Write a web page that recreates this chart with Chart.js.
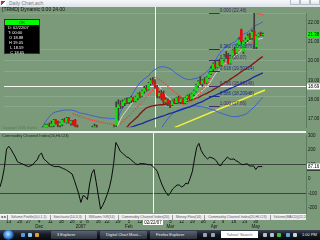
<!DOCTYPE html>
<html lang="en">
<head>
<meta charset="utf-8">
<title>Daily Chart</title>
<script src="https://cdn.jsdelivr.net/npm/chart.js@4.4.1/dist/chart.umd.min.js"></script>
<style>
  html, body { margin: 0; padding: 0; }
  body {
    position: relative;
    width: 320px;
    height: 240px;
    overflow: hidden;
    background: #7a9a7a;
    font-family: "Liberation Sans", Arial, sans-serif;
  }
  canvas { position: absolute; left: 0; }
  #price-chart { top: 7px; width: 320px; height: 125px; }
  #cci-chart { top: 131px; width: 320px; height: 99px; }
  .abs { position: absolute; white-space: nowrap; }

  #titlebar { left: 0; top: 0; width: 320px; height: 7px; background: linear-gradient(#f6f8fa, #dce3ea); }
  #titlebar .icon { position: absolute; left: 1px; top: 1px; width: 5px; height: 5px; background: linear-gradient(135deg, #cc2a2a 0 50%, #ffffff 50%); }
  #titlebar .title { position: absolute; left: 9px; top: 0; font-size: 5px; line-height: 7px; color: #7b8088; }
  .winbtn { position: absolute; top: 0; width: 10px; height: 5px; box-sizing: border-box; border: 1px solid #b5bdc6; border-top: 0; background: linear-gradient(#fbfcfd, #dfe5eb); }

  #symbol-line { left: 2px; top: 6px; font-size: 5px; line-height: 6px; color: #141414; }
  #data-box { left: 4px; top: 19px; width: 36px; height: 35px; background: #000; border: 1px solid #333; box-sizing: border-box; }
  #data-box .hdr { height: 5px; background: #00ff00; color: #000; font-size: 4px; line-height: 5px; text-align: center; }
  #data-box .row { color: #fff; font-size: 4px; line-height: 5px; padding-left: 3px; }
  #copyright { left: 2px; top: 126px; font-size: 3.5px; color: #5a785a; }

  #panel-split { left: 0; top: 131px; width: 306px; height: 2px; background: #f2f2f2; }
  #cci-title { left: 2px; top: 133px; font-size: 4px; line-height: 5px; color: #1c251c; }

  #tab-strip { left: 0; top: 214px; width: 306px; height: 6px; background: #ececec; border-top: 1px solid #ffffff; box-sizing: border-box; display: flex; font-size: 3.5px; line-height: 5px; color: #5a5a5a; overflow: hidden; }
  #tab-strip .arrows { width: 9px; border-right: 1px solid #8a8a8a; text-align: center; color: #333; }
  #tab-strip .tab { padding: 0 3px; border-right: 1px solid #9a9a9a; }

  #taskbar { left: 0; top: 230px; width: 320px; height: 10px; background: linear-gradient(#3b4453, #161b24 45%, #07090d); }
  #taskbar .orb { position: absolute; left: 3px; top: 0; width: 11px; height: 10px; border-radius: 50%; background: radial-gradient(circle at 45% 40%, #bfe8ff, #3a86d8 45%, #0f2f60 75%); }
  #taskbar .ql { position: absolute; top: 3px; width: 4px; height: 4px; border-radius: 1px; }
  #taskbar .btn { position: absolute; top: 1px; height: 8px; border-radius: 1px; background: linear-gradient(#5a6372, #2b313c); color: #e8eef5; font-size: 4px; line-height: 8px; padding-left: 6px; box-sizing: border-box; overflow: hidden; }
  #taskbar .search { position: absolute; left: 221px; top: 1px; width: 37px; height: 7px; background: #fff; color: #6a6a6a; font-size: 4px; line-height: 7px; text-align: center; }
  #taskbar .tray { position: absolute; top: 3px; width: 4px; height: 4px; border-radius: 1px; }
  #taskbar .clock { position: absolute; left: 302px; top: 0; font-size: 4px; line-height: 10px; color: #e8eef5; }
</style>
</head>
<body>

<div id="titlebar" class="abs">
  <span class="icon"></span>
  <span class="title">Daily Chart.ach</span>
  <span class="winbtn" style="left:290px"></span>
  <span class="winbtn" style="left:300px"></span>
  <span class="winbtn" style="left:310px"></span>
</div>

<canvas id="price-chart" width="320" height="125"></canvas>
<canvas id="cci-chart" width="320" height="99"></canvas>

<div id="symbol-line" class="abs">[TRMD] Dynamic 0.00 24.00</div>

<div id="data-box" class="abs">
  <div class="hdr">OK</div>
  <div class="row" id="box-date"></div>
  <div class="row">T: 00:00</div>
  <div class="row" id="box-open"></div>
  <div class="row" id="box-high"></div>
  <div class="row" id="box-low"></div>
  <div class="row" id="box-close"></div>
</div>

<div id="copyright" class="abs">Copyright 2006 Digital</div>
<div id="panel-split" class="abs"></div>
<div id="cci-title" class="abs">Commodity Channel Index(20,HLC/3)</div>
<div id="tab-strip" class="abs"></div>

<div id="taskbar" class="abs">
  <span class="orb"></span>
  <span class="ql" style="left:21px;background:#4aa0e8"></span>
  <span class="ql" style="left:28px;background:#8cc8f0"></span>
  <span class="ql" style="left:35px;background:#e0a030"></span>
  <span class="btn" style="left:51px;width:46px">3 Explorer</span>
  <span class="btn" style="left:100px;width:47px">Digital Chart Mast...</span>
  <span class="btn" style="left:150px;width:47px">Firefox Explorer</span>
  <span class="ql" style="left:203px;background:#9aa4b0"></span>
  <span class="ql" style="left:211px;background:#9aa4b0"></span>
  <span class="search">Yahoo! Search</span>
  <span class="tray" style="left:263px;background:#b8c0cc"></span>
  <span class="tray" style="left:270px;background:#b8c0cc"></span>
  <span class="tray" style="left:277px;background:#40c040"></span>
  <span class="tray" style="left:286px;background:#5aa8e8"></span>
  <span class="tray" style="left:293px;background:#c8d0da"></span>
  <span class="clock">1:00 PM</span>
</div>

<script>
// ------------------------------------------------------
// DATA  (day 0 = Nov 13 2006, one step per trading day)
// ------------------------------------------------------
const FIRST_DAY = -4;
const LAST_DAY = 136;

const opens = [
  15.80, 15.90, 16.05, 16.20, 16.35, 16.45, 16.25, 16.15, 16.10, 16.05,
  16.15, 16.10, 16.25, 16.15, 16.20, 16.30, 16.40, 16.45, 16.45, 16.55,
  16.62, 16.70, 16.65, 16.70, 16.95, 16.80, 16.70, 16.75, 16.95, 16.85,
  17.05, 16.80, 16.90, 16.95, 16.60, 16.45, 16.25, 16.00, 15.80, 16.00,
  15.90, 16.30, 16.55, 16.60, 16.45, 16.20, 15.95, 15.65, 15.75, 15.90,
  16.10, 16.30, 16.70, 17.60, 17.75, 17.70, 17.85, 17.95, 17.90, 18.00,
  18.10, 17.95, 18.10, 18.30, 18.20, 18.45, 18.60, 18.55, 18.85, 19.00,
  18.88, 18.65, 18.20, 18.35, 18.30, 17.90, 18.00, 17.80, 17.75, 17.95,
  17.85, 18.10, 17.90, 18.05, 17.85, 18.10, 18.20, 18.05, 18.30, 18.45,
  18.75, 18.95, 18.85, 19.00, 18.90, 19.15, 19.35, 19.60, 19.85, 19.70,
  20.00, 19.80, 20.10, 20.30, 20.30, 19.90, 20.25, 20.55, 20.45, 20.85,
  21.60, 20.50, 21.00, 21.10, 21.30, 21.20, 21.55, 20.75, 21.30, 21.40,
  21.35
];
const highs = [
  15.95, 16.10, 16.25, 16.40, 16.50, 16.50, 16.35, 16.25, 16.20, 16.20,
  16.25, 16.30, 16.35, 16.25, 16.35, 16.45, 16.50, 16.55, 16.62, 16.75,
  16.75, 16.80, 16.90, 17.00, 17.00, 16.90, 16.85, 17.00, 17.05, 17.10,
  17.10, 16.95, 16.95, 17.00, 16.70, 16.50, 16.30, 16.10, 16.05, 16.10,
  16.00, 16.65, 16.75, 16.70, 16.50, 16.25, 16.00, 15.80, 15.95, 16.15,
  16.35, 16.70, 17.90, 18.00, 17.95, 18.00, 18.05, 18.10, 18.10, 18.20,
  18.15, 18.20, 18.35, 18.40, 18.50, 18.70, 18.75, 18.90, 19.10, 19.15,
  19.05, 18.75, 18.45, 18.50, 18.45, 18.10, 18.05, 17.95, 18.00, 18.05,
  18.15, 18.20, 18.10, 18.10, 18.15, 18.25, 18.30, 18.35, 18.50, 18.80,
  19.00, 19.20, 19.05, 19.15, 19.20, 19.40, 19.70, 19.90, 20.00, 20.05,
  20.10, 20.15, 20.35, 20.50, 20.40, 20.30, 20.60, 20.70, 20.90, 21.20,
  21.65, 21.05, 21.20, 21.40, 21.45, 21.60, 22.48, 21.35, 21.45, 21.50,
  21.45
];
const lows = [
  15.70, 15.85, 16.00, 16.15, 16.25, 16.20, 16.10, 16.00, 15.95, 16.00,
  16.05, 16.05, 16.10, 16.05, 16.15, 16.25, 16.30, 16.35, 16.40, 16.50,
  16.55, 16.60, 16.55, 16.60, 16.75, 16.60, 16.55, 16.65, 16.85, 16.80,
  16.80, 16.70, 16.70, 16.60, 16.40, 16.20, 15.95, 15.75, 15.75, 15.85,
  15.80, 16.20, 16.45, 16.40, 16.15, 15.90, 15.60, 15.55, 15.70, 15.85,
  16.05, 16.20, 16.60, 16.95, 17.55, 17.60, 17.70, 17.80, 17.80, 17.85,
  17.90, 17.90, 18.00, 18.10, 18.15, 18.35, 18.45, 18.50, 18.75, 18.80,
  18.59, 18.10, 18.10, 18.00, 17.80, 17.75, 17.70, 17.60, 17.70, 17.80,
  17.80, 17.85, 17.80, 17.80, 17.80, 18.00, 18.00, 18.00, 18.20, 18.40,
  18.65, 18.80, 18.70, 18.85, 18.85, 19.10, 19.30, 19.50, 19.60, 19.65,
  19.75, 19.75, 20.00, 20.15, 19.85, 19.85, 20.20, 20.35, 20.40, 20.80,
  20.90, 20.40, 20.90, 21.00, 21.10, 21.10, 20.65, 20.65, 21.25, 21.30,
  21.30
];
const closes = [
  15.90, 16.05, 16.20, 16.35, 16.45, 16.25, 16.15, 16.10, 16.05, 16.15,
  16.10, 16.25, 16.15, 16.20, 16.30, 16.40, 16.45, 16.50, 16.58, 16.70,
  16.70, 16.65, 16.75, 16.95, 16.80, 16.70, 16.80, 16.95, 16.90, 17.05,
  16.85, 16.90, 16.75, 16.65, 16.45, 16.25, 16.00, 15.80, 16.00, 15.90,
  15.85, 16.55, 16.62, 16.45, 16.20, 15.95, 15.65, 15.75, 15.90, 16.10,
  16.30, 16.60, 17.60, 17.75, 17.70, 17.90, 18.00, 17.90, 18.05, 18.10,
  17.95, 18.15, 18.30, 18.20, 18.45, 18.60, 18.55, 18.85, 19.00, 18.90,
  18.65, 18.20, 18.35, 18.10, 17.90, 18.00, 17.80, 17.75, 17.95, 17.85,
  18.10, 17.90, 18.05, 17.85, 18.10, 18.20, 18.05, 18.30, 18.45, 18.75,
  18.95, 18.85, 19.00, 18.90, 19.15, 19.35, 19.60, 19.85, 19.70, 20.00,
  19.80, 20.10, 20.30, 20.20, 19.90, 20.25, 20.55, 20.45, 20.85, 21.10,
  21.00, 21.00, 21.10, 21.30, 21.20, 21.50, 21.15, 21.30, 21.40, 21.35,
  21.38
];

// overlays: each starts at the given trading day
const upperBandStart = 13;
const upperBand = [
  16.45,
  16.63, 16.83, 16.98, 17.13, 17.26, 17.33, 17.38, 17.40, 17.43, 17.46,
  17.47, 17.48, 17.48, 17.48, 17.46, 17.43, 17.38, 17.33, 17.31, 17.28,
  17.28, 17.23, 17.21, 17.18, 17.16, 17.13, 17.11, 17.08, 17.08, 17.06,
  17.06, 17.03, 17.03, 17.03, 17.08, 17.13, 17.38, 17.58, 17.78, 17.88,
  17.99, 18.18, 18.38, 18.58, 18.73, 18.88, 18.99, 19.09, 19.16, 19.24,
  19.39, 19.49, 19.56, 19.64, 19.69, 19.71, 19.71, 19.69, 19.66, 19.61,
  19.54, 19.44, 19.34, 19.29, 19.21, 19.14, 19.09, 19.06, 19.04, 19.06,
  19.09, 19.11, 19.14, 19.21, 19.29, 19.36, 19.46, 19.54, 19.74, 19.89,
  20.04, 20.24, 20.39, 20.54, 20.64, 20.74, 20.79, 20.89, 20.94, 20.99,
  21.09, 21.24, 21.34, 21.39, 21.44, 21.49, 21.59, 21.69, 21.79, 21.86,
  21.91, 21.96, 22.04
];
const lowerBandStart = 68;
const lowerBand = [
  16.35, 16.52, 16.73, 16.88, 17.03, 17.16, 17.28, 17.36, 17.43, 17.48,
  17.53, 17.57, 17.60, 17.63, 17.66, 17.68, 17.69, 17.68, 17.67, 17.66,
  17.64, 17.62, 17.59, 17.55, 17.51, 17.48, 17.44, 17.39, 17.34, 17.30,
  17.26, 17.22, 17.19, 17.16, 17.14, 17.14, 17.14, 17.16, 17.19, 17.22,
  17.26, 17.34, 17.44, 17.54, 17.64, 17.76, 17.89, 18.01, 18.14
];
const fastAvgStart = 47;
const fastAvg = [
  16.49, 16.59, 16.74, 16.99, 17.19, 17.34, 17.49, 17.64, 17.79, 17.91,
  18.04, 18.14, 18.24, 18.34, 18.44, 18.54, 18.64, 18.74, 18.81, 18.84,
  18.79, 18.69, 18.54, 18.39, 18.24, 18.11, 18.04, 17.96, 17.91, 17.89,
  17.91, 17.94, 17.96, 17.99, 17.99, 18.01, 18.06, 18.11, 18.21, 18.31,
  18.41, 18.49, 18.59, 18.69, 18.81, 18.99, 19.16, 19.34, 19.49, 19.61,
  19.74, 19.84, 19.91, 19.99, 20.09, 20.19, 20.26, 20.36, 20.46, 20.56,
  20.71, 20.86, 20.99, 21.06, 21.11, 21.14, 21.14, 21.14, 21.16, 21.19
];
const midAvgStart = 52;
const midAvg = [
  16.45, 16.58, 16.73, 16.84, 16.94, 17.04, 17.14, 17.27, 17.39, 17.49,
  17.59, 17.63, 17.66, 17.69, 17.71, 17.73, 17.74, 17.75, 17.76, 17.78,
  17.79, 17.80, 17.81, 17.83, 17.84, 17.85, 17.86, 17.89, 17.91, 17.94,
  17.96, 18.00, 18.04, 18.08, 18.11, 18.18, 18.24, 18.29, 18.34, 18.40,
  18.46, 18.53, 18.59, 18.65, 18.71, 18.79, 18.86, 18.93, 18.99, 19.07,
  19.14, 19.22, 19.29, 19.38, 19.46, 19.53, 19.59, 19.67, 19.74, 19.83,
  19.91, 20.00, 20.09, 20.17, 20.24
];
const slowAvgStart = 53;
const slowAvg = [
  16.48, 16.56, 16.60, 16.63, 16.67, 16.71, 16.75, 16.78, 16.83, 16.88,
  16.92, 16.96, 17.00, 17.03, 17.07, 17.11, 17.15, 17.18, 17.22, 17.26,
  17.30, 17.33, 17.37, 17.41, 17.45, 17.48, 17.52, 17.56, 17.60, 17.63,
  17.68, 17.73, 17.78, 17.83, 17.87, 17.91, 17.98, 18.04, 18.09, 18.14,
  18.19, 18.24, 18.29, 18.34, 18.39, 18.44, 18.49, 18.54, 18.59, 18.64,
  18.69, 18.74, 18.79, 18.84, 18.89, 18.94, 19.00, 19.06, 19.13, 19.19,
  19.24, 19.29, 19.34, 19.39
];
const sarStart = 28;
const sarValues = [
  17.28, 17.24, 17.20, 17.16, 17.12, 17.08, 17.05, 17.01, 16.98, 16.95,
  16.92, 16.90, 16.88, 16.85, 16.83, 16.80, 16.78, 16.76, 16.74, 16.72,
  null, null,
  16.78, 16.88, 16.98, 17.08, 17.18, 17.30, 17.42, 17.54, 17.66, 17.78,
  17.90, 18.02, 18.14, 18.26, 18.38, 18.50,
  19.15, 19.12, 19.05, 18.98, 18.90, 18.80, 18.70, 18.60, 18.50, 18.42,
  18.33, 18.25, 18.18,
  17.75, 17.78, 17.80, 17.85, 17.90, 18.00, 18.10, 18.25, 18.40, 18.55,
  18.65, 18.75, 18.90, 19.10, 19.30, 19.45, 19.55, 19.65, 19.75, 19.85,
  19.95, 20.05, 20.15, 20.25, 20.35, 20.45, 20.55, 20.65, 20.70, 20.80,
  20.85, 20.90, 20.95, null,
  22.48, 22.45, 22.42, 22.38
];

const trendDays = [75, 117];
const trendValues = [16.57, 18.51];

const fibRatios = ["0.000", "0.382", "0.500", "0.618", "0.786", "0.886", "1.000"];
const fibLevels = [22.48, 20.63876, 20.07, 19.50124, 18.69148, 18.20948, 17.66];
const fibText = ["22.48", "20.63876", "20.07", "19.50124", "18.69148", "18.20948", "17.66"];
const fibSelected = 4;
const fibLineStart = 91;
const fibLabelDay = 96;

const cciValues = [
  -53, 0, 80, 207, 227, 207, 180, 153, 120, 113,
  107, 100, 93, 87, 93, 100, 120, 133, 167, 180,
  140, 127, 113, 100, 93, 87, 87, 87, 80, 73,
  67, 57, 47, 36, -7, -53, -100, -160, -113, -120,
  -140, -33, 40, 67, -20, -113, -207, -180, -147, -107,
  -60, 7, 107, 253, 227, 193, 180, 167, 153, 147,
  133, 120, 107, 100, 107, 107, 107, 103, 100, 100,
  87, 73, 53, 7, -33, -67, -93, -113, -93, -67,
  -53, -40, -40, -53, -47, -27, -33, 7, 53, 140,
  220, 247, 200, 173, 153, 140, 153, 147, 140, 127,
  100, 93, 120, 133, 153, 140, 137, 140, 127, 120,
  107, 100, 103, 107, 93, 90, 93, 67, 87, 87,
  87
];

const priceTicks = [17, 18, 19, 20, 21, 22];
const cciTicks = [-200, -100, 0, 100, 200, 300];
const cciGridLevels = [100, -100];

const dateTickDays = [0, 5, 9, 14, 19, 24, 29, 33, 36, 41, 45, 50, 55, 60, 65, 69, 74, 79, 84, 89, 94, 98, 103, 108, 113];
const dateTickText = ["13", "20", "27", "4", "11", "18", "26", "3", "8", "16", "22", "29", "5", "12", "20", "26", "5", "12", "19", "26", "2", "9", "16", "23", "30"];
const monthTickDays = [14, 33, 55, 74, 94, 113];
const monthTickText = ["Dec", "2007", "Feb", "Mar", "Apr", "May"];

const crossDay = 66;
const crossDate = "02/22/07";
const lastCci = 87.16;

const tabNames = [
  "Volume Profile(0,0,1,1)",
  "Stochastic(14,3,3)",
  "Williams %R(14)",
  "Commodity Channel Index(20)",
  "Money Flow(14)",
  "Commodity Channel Index(20,HLC/3)",
  "Volume(MACD)(12,26,9)"
];

// ------------------------------------------------------
// Styles
// ------------------------------------------------------
const UP_COLOR = "#10e010";
const DOWN_COLOR = "#e80c0c";
const WICK_COLOR = "#3c3c3c";
const AXIS_LINE = "#5c7a5e";
const CROSS_COLOR = "#f6f6f6";
const FIB_LINE = "rgba(150,180,158,0.55)";
const FONT = "'Liberation Sans', Arial, sans-serif";

const PRICE_MIN = 16.585;
const PRICE_MAX = 22.485;
const CCI_MIN = -233;
const CCI_MAX = 300;

Chart.defaults.font.family = FONT;
Chart.defaults.font.size = 4.5;
Chart.defaults.color = "#141414";
Chart.defaults.plugins.legend.display = false;
Chart.defaults.plugins.tooltip.enabled = false;
Chart.defaults.animation = false;

// ------------------------------------------------------
// Helpers
// ------------------------------------------------------
const dayLabels = [];
for (let d = FIRST_DAY; d <= LAST_DAY; d++) {
  dayLabels.push(String(d));
}

function dayIndex(day) {
  return day - FIRST_DAY;
}

function placeSeries(startDay, values) {
  const out = [];
  for (let d = FIRST_DAY; d < startDay; d++) {
    out.push(null);
  }
  return out.concat(values);
}

function lineSet(data, extra) {
  return Object.assign(
    {
      type: "line",
      data: data,
      borderWidth: 1,
      pointRadius: 0,
      fill: false,
      tension: 0,
      clip: 0,
    },
    extra
  );
}

function setText(id, val) {
  const el = document.getElementById(id);
  if (el) {
    el.textContent = val;
  }
}

function axisTag(ctx, left, py, bg, text, underline) {
  ctx.fillStyle = bg;
  ctx.fillRect(left + 1, py - 3, 13, 6);
  ctx.fillStyle = "#000000";
  ctx.font = "4.5px " + FONT;
  ctx.textAlign = "left";
  ctx.textBaseline = "middle";
  ctx.fillText(text, left + 2, py + 0.3);
  if (underline) {
    ctx.fillRect(left + 1, py + 3, 13, 1);
  }
}

// ------------------------------------------------------
// Price overlay plugin (fibonacci, crosshair, axis tags)
// ------------------------------------------------------
const priceOverlay = {
  id: "priceOverlay",
  beforeDatasetsDraw(chart) {
    const ctx = chart.ctx;
    const a = chart.chartArea;
    const x = chart.scales.x;
    const y = chart.scales.y;

    ctx.save();
    ctx.lineWidth = 1;
    for (let i = 0; i < fibLevels.length; i++) {
      const py = Math.round(y.getPixelForValue(fibLevels[i])) + 0.5;
      ctx.strokeStyle = i === fibSelected ? CROSS_COLOR : FIB_LINE;
      ctx.beginPath();
      ctx.moveTo(a.left, py);
      ctx.lineTo(a.right, py);
      ctx.stroke();
    }

    const cx = Math.round(x.getPixelForValue(dayIndex(crossDay))) + 0.5;
    ctx.strokeStyle = CROSS_COLOR;
    ctx.beginPath();
    ctx.moveTo(cx, 0);
    ctx.lineTo(cx, a.bottom);
    ctx.stroke();
    ctx.restore();
  },
  afterDatasetsDraw(chart) {
    const ctx = chart.ctx;
    const x = chart.scales.x;
    const y = chart.scales.y;
    const x0 = x.getPixelForValue(dayIndex(fibLineStart));
    const x1 = x.getPixelForValue(dayIndex(fibLabelDay));

    ctx.save();
    ctx.font = "4.5px " + FONT;
    ctx.textAlign = "left";
    ctx.textBaseline = "bottom";
    for (let i = 0; i < fibLevels.length; i++) {
      const py = Math.round(y.getPixelForValue(fibLevels[i])) + 0.5;
      const color = i % 2 === 0 ? "#4a2a6a" : "#1e2c8c";
      ctx.strokeStyle = color;
      ctx.beginPath();
      ctx.moveTo(x0, py);
      ctx.lineTo(x1, py);
      ctx.stroke();
      ctx.fillStyle = color;
      ctx.fillText(fibRatios[i] + " (" + fibText[i] + ")", x1, py - 0.5);
    }
    ctx.restore();
  },
  afterDraw(chart) {
    const ctx = chart.ctx;
    const a = chart.chartArea;
    const y = chart.scales.y;
    const last = closes[closes.length - 1];

    ctx.save();
    axisTag(ctx, a.right, y.getPixelForValue(last), "#00ff00", last.toFixed(2), false);
    axisTag(ctx, a.right, y.getPixelForValue(fibLevels[fibSelected]), "#ffffff", fibLevels[fibSelected].toFixed(2), false);
    ctx.restore();
  },
};

// ------------------------------------------------------
// CCI overlay plugin (crosshair, date tag, value tag)
// ------------------------------------------------------
const cciOverlay = {
  id: "cciOverlay",
  beforeDatasetsDraw(chart) {
    const ctx = chart.ctx;
    const a = chart.chartArea;
    const cx = Math.round(chart.scales.x.getPixelForValue(dayIndex(crossDay))) + 0.5;

    ctx.save();
    ctx.strokeStyle = CROSS_COLOR;
    ctx.lineWidth = 1;
    ctx.beginPath();
    ctx.moveTo(cx, 0);
    ctx.lineTo(cx, a.bottom);
    ctx.stroke();
    ctx.restore();
  },
  afterDraw(chart) {
    const ctx = chart.ctx;
    const a = chart.chartArea;
    const cx = chart.scales.x.getPixelForValue(dayIndex(crossDay));

    ctx.save();
    ctx.fillStyle = "#ffffff";
    ctx.fillRect(Math.round(cx) - 10, a.bottom + 6, 20, 6);
    ctx.fillStyle = "#000000";
    ctx.font = "4.5px " + FONT;
    ctx.textAlign = "center";
    ctx.textBaseline = "middle";
    ctx.fillText(crossDate, Math.round(cx), a.bottom + 9.3);

    axisTag(ctx, a.right, chart.scales.y.getPixelForValue(lastCci), "#ffffff", lastCci.toFixed(2), true);
    ctx.restore();
  },
};

// ------------------------------------------------------
// PRICE CHART
// ------------------------------------------------------
function renderPriceChart() {
  const canvas = document.getElementById("price-chart");
  const wicks = [];
  const bodies = [];
  const bodyColors = [];

  for (let i = 0; i < opens.length; i++) {
    wicks.push([lows[i], highs[i]]);
    bodies.push([opens[i], closes[i]]);
    bodyColors.push(closes[i] >= opens[i] ? UP_COLOR : DOWN_COLOR);
  }

  const trend = dayLabels.map(function () { return null; });
  for (let i = 0; i < trendDays.length; i++) {
    trend[dayIndex(trendDays[i])] = trendValues[i];
  }

  return new Chart(canvas, {
    type: "bar",
    data: {
      labels: dayLabels,
      datasets: [
        {
          data: bodies,
          backgroundColor: bodyColors,
          barThickness: 2,
          grouped: false,
          order: 0,
          clip: 0,
        },
        {
          data: wicks,
          backgroundColor: WICK_COLOR,
          barThickness: 1,
          grouped: false,
          order: 1,
          clip: 0,
        },
        lineSet(placeSeries(sarStart, sarValues), {
          showLine: false,
          pointRadius: 0.8,
          pointBorderWidth: 0,
          pointBackgroundColor: "#ff3b3b",
          borderColor: "#ff3b3b",
          order: 2,
        }),
        lineSet(placeSeries(fastAvgStart, fastAvg), { borderColor: "#d6dacb", order: 3 }),
        lineSet(placeSeries(midAvgStart, midAvg), { borderColor: "#8c1010", borderWidth: 1.3, order: 4 }),
        lineSet(placeSeries(slowAvgStart, slowAvg), { borderColor: "#1c2a9c", borderWidth: 1.3, order: 5 }),
        lineSet(placeSeries(upperBandStart, upperBand), { borderColor: "#3d5fd6", order: 6 }),
        lineSet(placeSeries(lowerBandStart, lowerBand), { borderColor: "#3d5fd6", order: 7 }),
        lineSet(trend, { borderColor: "#f2f23a", borderWidth: 1.5, spanGaps: true, order: 8 }),
      ],
    },
    options: {
      responsive: false,
      devicePixelRatio: 1,
      layout: { padding: { top: 6, bottom: 1, left: 0, right: 0 } },
      scales: {
        x: { display: false, offset: false },
        y: {
          position: "right",
          min: PRICE_MIN,
          max: PRICE_MAX,
          grid: { display: false, drawTicks: false },
          border: { display: true, color: AXIS_LINE },
          ticks: {
            padding: 2,
            autoSkip: false,
            callback: function (v) { return Number(v).toFixed(2); },
          },
          afterBuildTicks: function (scale) {
            scale.ticks = priceTicks.map(function (v) { return { value: v }; });
          },
          afterFit: function (scale) { scale.width = 14; },
        },
      },
    },
    plugins: [priceOverlay],
  });
}

// ------------------------------------------------------
// CCI CHART
// ------------------------------------------------------
function renderCciChart() {
  const canvas = document.getElementById("cci-chart");

  return new Chart(canvas, {
    type: "line",
    data: {
      labels: dayLabels,
      datasets: [
        {
          data: cciValues,
          borderColor: "#0a0a0a",
          borderWidth: 1,
          pointRadius: 0,
          tension: 0,
          fill: false,
          clip: 0,
        },
      ],
    },
    options: {
      responsive: false,
      devicePixelRatio: 1,
      layout: { padding: { top: 2, bottom: 0, left: 0, right: 0 } },
      scales: {
        x: {
          offset: false,
          grid: { display: false, drawTicks: false },
          border: { display: false },
          ticks: {
            autoSkip: false,
            maxRotation: 0,
            padding: 6,
            callback: function (value) {
              const day = value + FIRST_DAY;
              const k = dateTickDays.indexOf(day);
              const m = monthTickDays.indexOf(day);
              return [k >= 0 ? dateTickText[k] : "", m >= 0 ? monthTickText[m] : ""];
            },
          },
          afterBuildTicks: function (scale) {
            scale.ticks = dateTickDays.map(function (d) { return { value: dayIndex(d) }; });
          },
          afterFit: function (scale) { scale.height = 17; },
        },
        y: {
          position: "right",
          min: CCI_MIN,
          max: CCI_MAX,
          grid: {
            drawTicks: false,
            color: function (c) {
              return c.tick && cciGridLevels.indexOf(c.tick.value) >= 0 ? "#3a483b" : "rgba(0,0,0,0)";
            },
          },
          border: { display: true, color: AXIS_LINE },
          ticks: { padding: 2, autoSkip: false },
          afterBuildTicks: function (scale) {
            scale.ticks = cciTicks.map(function (v) { return { value: v }; });
          },
          afterFit: function (scale) { scale.width = 14; },
        },
      },
    },
    plugins: [cciOverlay],
  });
}

// ------------------------------------------------------
// TEXT PARTS
// ------------------------------------------------------
function renderDataBox() {
  const k = dayIndex(crossDay);
  setText("box-date", "D: " + crossDate);
  setText("box-open", "\u00a0O " + opens[k].toFixed(2));
  setText("box-high", "\u00a0H " + highs[k].toFixed(2));
  setText("box-low", "\u00a0 L " + lows[k].toFixed(2));
  setText("box-close", "\u00a0 C " + closes[k].toFixed(2));
}

function renderTabs() {
  const strip = document.getElementById("tab-strip");
  let html = '<span class="arrows">\u25c4\u25ba</span>';
  for (let i = 0; i < tabNames.length; i++) {
    html += '<span class="tab">' + tabNames[i] + "</span>";
  }
  strip.innerHTML = html;
}

renderPriceChart();
renderCciChart();
renderDataBox();
renderTabs();
</script>
</body>
</html>
